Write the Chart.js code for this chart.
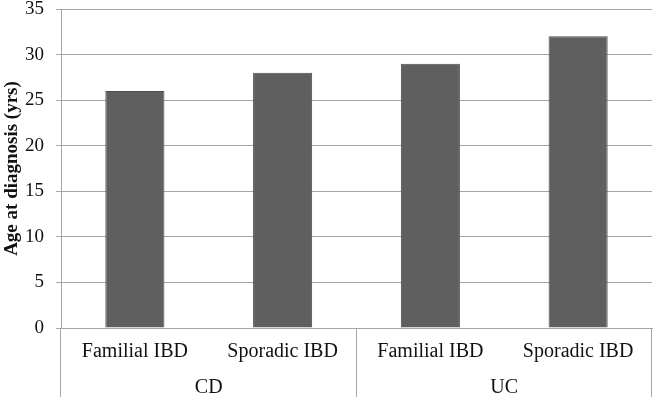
<!DOCTYPE html>
<html>
<head>
<meta charset="utf-8">
<script src="https://cdn.jsdelivr.net/npm/chart.js@4"></script>
<style>
html,body{margin:0;padding:0;background:#fff;}
#wrap{width:653px;height:397px;position:relative;}
</style>
</head>
<body>
<div id="wrap"><canvas id="c" width="653" height="397"></canvas></div>
<script>
const subCategories = ['Familial IBD', 'Sporadic IBD', 'Familial IBD', 'Sporadic IBD'];
const groups = ['CD', 'UC'];
const ageAtDiagnosis = [26, 28, 29, 32];
const yTicks = [0, 5, 10, 15, 20, 25, 30, 35];
const yTitle = 'Age at diagnosis (yrs)';

const serif = "'Liberation Serif', 'Times New Roman', serif";
const gridColor = '#a6a6a6';

const separators = {
  id: 'separators',
  afterDraw(chart) {
    const x = chart.scales.x;
    const ctx = chart.ctx;
    const area = chart.chartArea;
    const n = subCategories.length;
    const step = (x.getPixelForValue(1) - x.getPixelForValue(0));
    const bounds = [];
    const perGroup = n / groups.length;
    for (let g = 0; g <= groups.length; g++) {
      bounds.push(x.getPixelForValue(g * perGroup) - step / 2);
    }
    ctx.save();
    ctx.strokeStyle = gridColor;
    ctx.lineWidth = 1;
    bounds.forEach(px => {
      const xx = Math.round(px) - 0.5;
      ctx.beginPath();
      ctx.moveTo(xx, area.bottom);
      ctx.lineTo(xx, chart.height);
      ctx.stroke();
    });
    ctx.restore();
  }
};

new Chart(document.getElementById('c'), {
  type: 'bar',
  data: {
    labels: subCategories,
    datasets: [{
      data: ageAtDiagnosis,
      backgroundColor: '#5f5f5f',
      borderColor: '#4d4d4d',
      borderWidth: 1,
      categoryPercentage: 1,
      barPercentage: 0.4,
      xAxisID: 'x'
    }]
  },
  options: {
    responsive: false,
    animation: false,
    layout: { padding: { top: 0, right: 1, left: 0, bottom: 0 } },
    plugins: { legend: { display: false }, tooltip: { enabled: false } },
    scales: {
      y: {
        min: 0, max: 35,
        afterBuildTicks(scale) { scale.ticks = yTicks.map(v => ({ value: v })); },
        afterFit(scale) { scale.width = 61; scale.paddingTop = 9; scale.paddingBottom = 0; },
        grid: { color: gridColor, lineWidth: 1, tickLength: 5, drawTicks: true },
        border: { display: true, color: gridColor },
        ticks: { color: '#111', padding: 12, font: { family: serif, size: 19 } },
        title: {
          display: true, text: yTitle, color: '#111',
          font: { family: serif, size: 19, weight: 'bold' },
          padding: { top: 1, bottom: 0 }
        }
      },
      x: {
        type: 'category',
        position: 'bottom',
        offset: true,
        afterFit(scale) { scale.height = 40; },
        grid: { display: false, drawTicks: false },
        border: { display: true, color: gridColor },
        ticks: { color: '#111', padding: 12, maxRotation: 0, autoSkip: false, font: { family: serif, size: 20 } }
      },
      x2: {
        type: 'category',
        labels: groups,
        position: 'bottom',
        offset: true,
        afterFit(scale) { scale.height = 29; },
        grid: { display: false, drawTicks: false },
        border: { display: false },
        ticks: { color: '#111', padding: 8, maxRotation: 0, font: { family: serif, size: 20 } }
      }
    }
  },
  plugins: [separators]
});
</script>
</body>
</html>
